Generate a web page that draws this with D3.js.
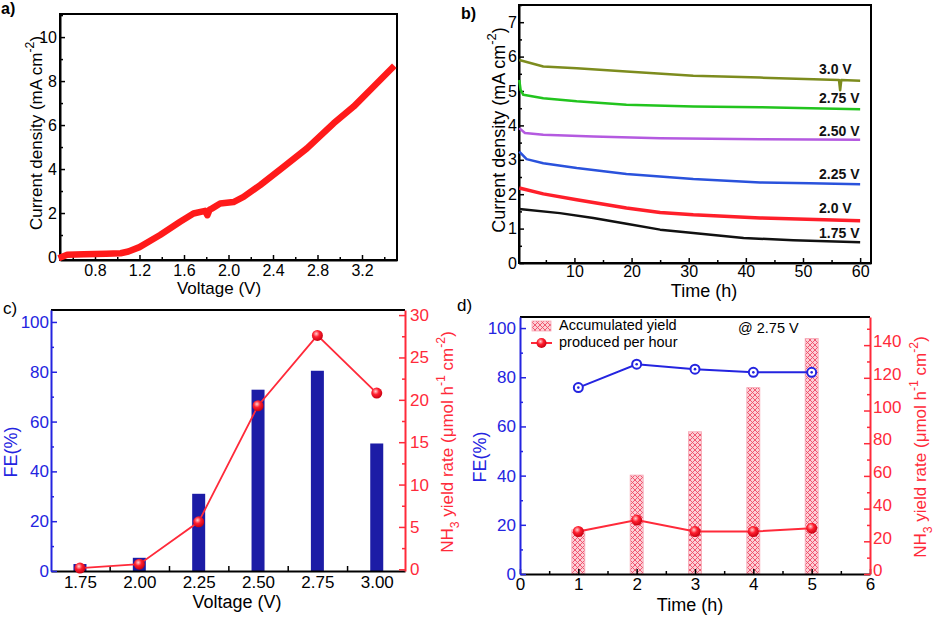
<!DOCTYPE html>
<html>
<head>
<meta charset="utf-8">
<script src="https://cdn.jsdelivr.net/npm/d3@7"></script>
<style>
  body { margin: 0; background: #fff; }
  svg { display: block; }
</style>
</head>
<body>
<svg id="chart" width="937" height="618"></svg>
<script>
// ---- data ----
// a) current density vs voltage
var aVolt = [0.5, 0.55, 0.7, 0.9, 1.03, 1.1, 1.2, 1.385, 1.565, 1.685, 1.79, 1.81, 1.83, 1.85, 1.925, 2.045, 2.135, 2.285, 2.495, 2.705, 2.945, 3.125, 3.305, 3.47];
var aCurr = [0, 0.1, 0.13, 0.15, 0.17, 0.25, 0.45, 1.0, 1.6, 1.98, 2.1, 1.9, 2.15, 2.2, 2.43, 2.5, 2.73, 3.27, 4.1, 4.94, 6.08, 6.84, 7.75, 8.59];

// b) chronoamperometry curves
var bNames = ["3.0 V", "2.75 V", "2.50 V", "2.25 V", "2.0 V", "1.75 V"];
var bColors = ["#7d8c1e", "#22c41e", "#b45ae0", "#2a52dc", "#ff1f2a", "#111111"];
var bTime = [
  [0.35, 4.55, 10.4, 19.1, 30.8, 42.5, 56.3, 56.5, 56.7, 60],
  [0.35, 0.58, 1.05, 4.55, 10.4, 19.1, 30.8, 42.5, 60],
  [0.35, 1.34, 4.55, 13.3, 25, 42.5, 60],
  [0.35, 1.63, 4.55, 10.4, 19.1, 30.8, 42.5, 51.2, 60],
  [0.35, 4.55, 10.4, 19.1, 25, 30.8, 42.5, 60],
  [0.35, 7.46, 13.3, 19.1, 25, 30.8, 39.6, 48.3, 60]
];
var bCurr = [
  [5.9, 5.71, 5.66, 5.57, 5.44, 5.39, 5.32, 5.02, 5.32, 5.3],
  [5.32, 5.03, 4.89, 4.79, 4.70, 4.60, 4.55, 4.53, 4.47],
  [3.92, 3.78, 3.73, 3.68, 3.63, 3.60, 3.58],
  [3.24, 3.02, 2.90, 2.76, 2.59, 2.44, 2.34, 2.32, 2.29],
  [2.18, 2.01, 1.84, 1.60, 1.47, 1.40, 1.31, 1.23],
  [1.57, 1.45, 1.31, 1.14, 0.97, 0.87, 0.73, 0.66, 0.60]
];
var bLabelY = [5.6, 4.77, 3.81, 2.54, 1.55, 0.83];

// c) FE and yield rate vs voltage
var cVolt = [1.75, 2.00, 2.25, 2.50, 2.75, 3.00];
var cFE = [2.8, 5.3, 31, 72.8, 80.4, 51.2];
var cRate = [0.15, 0.6, 5.6, 19.3, 27.6, 20.8];

// d) 2.75 V over time
var dTime = [1, 2, 3, 4, 5];
var dAccum = [27, 60.5, 87, 114, 144];
var dRate = [26, 33, 26, 26, 28];
var dFE = [75.8, 85.3, 83.3, 82, 82];

var FONT = "'Liberation Sans', Arial, sans-serif";
var BLUE = "#2424e0", RED = "#ff2a3a";

var svg = d3.select("#chart");
svg.append("rect").attr("width", 937).attr("height", 618).attr("fill", "#fff");

var defs = svg.append("defs");
// shiny red ball markers
var grad = defs.append("radialGradient").attr("id", "ball")
    .attr("cx", "40%").attr("cy", "35%").attr("r", "65%");
grad.append("stop").attr("offset", "0%").attr("stop-color", "#ffd0d0");
grad.append("stop").attr("offset", "45%").attr("stop-color", "#ff2030");
grad.append("stop").attr("offset", "100%").attr("stop-color", "#c80010");
// cross hatch for accumulated yield bars
var pat = defs.append("pattern").attr("id", "hatch")
    .attr("width", 5).attr("height", 5).attr("patternUnits", "userSpaceOnUse");
pat.append("rect").attr("width", 5).attr("height", 5).attr("fill", "#fccfd6");
pat.append("path").attr("d", "M0,0L5,5M5,0L0,5").attr("stroke", "#ee4c66").attr("stroke-width", 0.9);

// axis helper: ticks inward, minor ticks shorter
function drawAxis(g, gen, minorGen, tx, ty, color, fs) {
    if (minorGen) {
        var m = g.append("g").attr("transform", "translate(" + tx + "," + ty + ")").call(minorGen);
        m.select(".domain").remove();
        m.selectAll(".tick line").attr("stroke", color).attr("stroke-width", 1.5);
    }
    var a = g.append("g").attr("transform", "translate(" + tx + "," + ty + ")").call(gen)
        .attr("font-family", FONT).attr("font-size", fs);
    a.select(".domain").attr("stroke", color).attr("stroke-width", 2);
    a.selectAll(".tick line").attr("stroke", color).attr("stroke-width", 1.5);
    a.selectAll(".tick text").attr("fill", color);
    return a;
}

function vTitle(g, x, y, color, fs, parts) {
    var t = g.append("text")
        .attr("transform", "translate(" + x + "," + y + ") rotate(-90)")
        .attr("text-anchor", "middle").attr("dominant-baseline", "middle")
        .attr("font-family", FONT).attr("font-size", fs).attr("fill", color);
    parts.forEach(function (p) {
        var s = t.append("tspan").text(p.t);
        if (p.s) s.attr("baseline-shift", p.s).attr("font-size", fs * 0.72);
    });
    return t;
}

function label(g, x, y, txt, fs, color, anchor, weight) {
    return g.append("text").attr("x", x).attr("y", y)
        .attr("text-anchor", anchor || "start").attr("dominant-baseline", "middle")
        .attr("font-family", FONT).attr("font-size", fs)
        .attr("font-weight", weight || "normal")
        .attr("fill", color || "#000").text(txt);
}

function range(a, b, s) { return d3.range(a, b + s / 2, s); }

//////////// PANEL A ////////////
(function () {
    var g = svg.append("g");
    var x = d3.scaleLinear().domain([0.4854, 3.5146]).range([60, 397]);
    var y = d3.scaleLinear().domain([-0.136, 11.05]).range([260, 14]);
    g.append("rect").attr("x", 60).attr("y", 14).attr("width", 337).attr("height", 246)
        .attr("fill", "none").attr("stroke", "#000").attr("stroke-width", 2);
    drawAxis(g, d3.axisBottom(x).tickValues(range(0.8, 3.2, 0.4)).tickFormat(d3.format(".1f")).tickSize(-5).tickSizeOuter(0).tickPadding(5),
        d3.axisBottom(x).tickValues(range(0.6, 3.4, 0.4)).tickFormat("").tickSize(-3).tickSizeOuter(0),
        0, 260, "#000", 16);
    drawAxis(g, d3.axisLeft(y).tickValues(range(0, 10, 2)).tickFormat(d3.format("d")).tickSize(-5).tickSizeOuter(0).tickPadding(3),
        d3.axisLeft(y).tickValues(range(1, 11, 2)).tickFormat("").tickSize(-3).tickSizeOuter(0),
        60, 0, "#000", 16);
    var line = d3.line().x(function (d) { return x(d[0]); }).y(function (d) { return y(d[1]); });
    g.append("path").datum(d3.zip(aVolt, aCurr)).attr("d", line)
        .attr("fill", "none").attr("stroke", "#ff1a1a").attr("stroke-width", 6.5)
        .attr("stroke-linejoin", "round").attr("stroke-linecap", "square");
    label(g, 219, 290, "Voltage (V)", 17, "#000", "middle");
    vTitle(g, 38, 133, "#000", 17, [{ t: "Current density (mA cm" }, { t: "-2", s: "super" }, { t: ")" }]);
    label(g, 1, 10, "a)", 16, "#000", "start", "bold");
})();

//////////// PANEL B ////////////
(function () {
    var g = svg.append("g");
    var x = d3.scaleLinear().domain([0.3, 61.9]).range([519, 871]);
    var y = d3.scaleLinear().domain([0, 7.5]).range([263, 5]);
    g.append("rect").attr("x", 519).attr("y", 5).attr("width", 352).attr("height", 258)
        .attr("fill", "none").attr("stroke", "#000").attr("stroke-width", 2);
    drawAxis(g, d3.axisBottom(x).tickValues(range(10, 60, 10)).tickFormat(d3.format("d")).tickSize(-5).tickSizeOuter(0).tickPadding(3),
        d3.axisBottom(x).tickValues(range(5, 55, 10)).tickFormat("").tickSize(-3).tickSizeOuter(0),
        0, 263, "#000", 16);
    drawAxis(g, d3.axisLeft(y).tickValues(range(0, 7, 1)).tickFormat(d3.format("d")).tickSize(-5).tickSizeOuter(0).tickPadding(2),
        d3.axisLeft(y).tickValues(range(0.5, 7.5, 1)).tickFormat("").tickSize(-3).tickSizeOuter(0),
        519, 0, "#000", 16);
    var line = d3.line().x(function (d) { return x(d[0]); }).y(function (d) { return y(d[1]); });
    bNames.forEach(function (n, i) {
        g.append("path").datum(d3.zip(bTime[i], bCurr[i])).attr("d", line)
            .attr("fill", "none").attr("stroke", bColors[i])
            .attr("stroke-width", i === 4 ? 3.5 : 2.5).attr("stroke-linejoin", "round");
        label(g, x(52.8), y(bLabelY[i]), n, 14, "#111", "start", "bold");
    });
    label(g, 704, 292, "Time (h)", 18, "#000", "middle");
    vTitle(g, 500, 130, "#000", 18, [{ t: "Current density (mA cm" }, { t: "-2", s: "super" }, { t: ")" }]);
    label(g, 461, 15, "b)", 16, "#000", "start", "bold");
})();

//////////// PANEL C ////////////
(function () {
    var g = svg.append("g");
    var x = d3.scaleLinear().domain([1.628, 3.119]).range([51, 405]);
    var yL = d3.scaleLinear().domain([0, 104.8]).range([571, 310]);
    var yR = d3.scaleLinear().domain([-0.2, 30.6]).range([571, 310]);
    g.append("line").attr("x1", 51).attr("x2", 405).attr("y1", 310).attr("y2", 310)
        .attr("stroke", "#000").attr("stroke-width", 2);
    // bars
    g.selectAll(".bar").data(d3.zip(cVolt, cFE)).enter().append("rect")
        .attr("x", function (d) { return x(d[0]) - 6.5; })
        .attr("width", 13)
        .attr("y", function (d) { return yL(d[1]); })
        .attr("height", function (d) { return yL(0) - yL(d[1]); })
        .attr("fill", "#1c1ca6");
    drawAxis(g, d3.axisBottom(x).tickValues(cVolt).tickFormat(d3.format(".2f")).tickSize(0).tickSizeOuter(0).tickPadding(5),
        d3.axisBottom(x).tickValues(range(1.875, 2.875, 0.25)).tickFormat("").tickSize(-5).tickSizeOuter(0),
        0, 571, "#000", 17);
    drawAxis(g, d3.axisLeft(yL).tickValues(range(0, 100, 20)).tickFormat(d3.format("d")).tickSize(-6).tickSizeOuter(0).tickPadding(2),
        d3.axisLeft(yL).tickValues(range(10, 90, 20)).tickFormat("").tickSize(-3).tickSizeOuter(0),
        51, 0, BLUE, 17);
    drawAxis(g, d3.axisRight(yR).tickValues(range(0, 30, 5)).tickFormat(d3.format("d")).tickSize(-6).tickSizeOuter(0).tickPadding(5),
        d3.axisRight(yR).tickValues(range(2.5, 27.5, 5)).tickFormat("").tickSize(-3).tickSizeOuter(0),
        405, 0, RED, 17);
    var line = d3.line().x(function (d) { return x(d[0]); }).y(function (d) { return yR(d[1]); });
    g.append("path").datum(d3.zip(cVolt, cRate)).attr("d", line)
        .attr("fill", "none").attr("stroke", RED).attr("stroke-width", 1.8);
    g.selectAll(".pt").data(d3.zip(cVolt, cRate)).enter().append("circle")
        .attr("cx", function (d) { return x(d[0]); })
        .attr("cy", function (d) { return yR(d[1]); })
        .attr("r", 5.5).attr("fill", "url(#ball)");
    label(g, 237, 603, "Voltage (V)", 18, "#000", "middle");
    vTitle(g, 12, 452, BLUE, 18, [{ t: "FE(%)" }]);
    vTitle(g, 449, 442, RED, 17, [{ t: "NH" }, { t: "3", s: "sub" }, { t: " yield rate (μmol h" }, { t: "-1", s: "super" }, { t: " cm" }, { t: "-2", s: "super" }, { t: ")" }]);
    label(g, 3, 310, "c)", 17, "#000", "start");
})();

//////////// PANEL D ////////////
(function () {
    var g = svg.append("g");
    var x = d3.scaleLinear().domain([0, 6]).range([520, 870]);
    var yL = d3.scaleLinear().domain([0, 104.5]).range([574, 317]);
    var yR = d3.scaleLinear().domain([0, 157.2]).range([574, 317]);
    g.append("line").attr("x1", 520).attr("x2", 870).attr("y1", 317).attr("y2", 317)
        .attr("stroke", "#000").attr("stroke-width", 2);
    g.selectAll(".bar").data(d3.zip(dTime, dAccum)).enter().append("rect")
        .attr("x", function (d) { return x(d[0]) - 6.5; })
        .attr("width", 13)
        .attr("y", function (d) { return yR(d[1]); })
        .attr("height", function (d) { return yR(0) - yR(d[1]); })
        .attr("fill", "url(#hatch)").attr("stroke", "#f7a8b6").attr("stroke-width", 0.8);
    drawAxis(g, d3.axisBottom(x).tickValues(range(0, 6, 1)).tickFormat(d3.format("d")).tickSize(-5).tickSizeOuter(0).tickPadding(4),
        d3.axisBottom(x).tickValues(range(0.5, 5.5, 1)).tickFormat("").tickSize(-3).tickSizeOuter(0),
        0, 574, "#000", 17);
    drawAxis(g, d3.axisLeft(yL).tickValues(range(0, 100, 20)).tickFormat(d3.format("d")).tickSize(-6).tickSizeOuter(0).tickPadding(4),
        d3.axisLeft(yL).tickValues(range(10, 90, 20)).tickFormat("").tickSize(-3).tickSizeOuter(0),
        520, 0, BLUE, 17);
    var rAx = drawAxis(g, d3.axisRight(yR).tickValues(range(0, 140, 20)).tickFormat(d3.format("d")).tickSize(-6).tickSizeOuter(0).tickPadding(3),
        d3.axisRight(yR).tickValues(range(10, 150, 20)).tickFormat("").tickSize(-3).tickSizeOuter(0),
        870, 0, RED, 17);
    rAx.selectAll(".tick text").attr("dy", "0.1em");
    // FE line
    var lineL = d3.line().x(function (d) { return x(d[0]); }).y(function (d) { return yL(d[1]); });
    g.append("path").datum(d3.zip(dTime, dFE)).attr("d", lineL)
        .attr("fill", "none").attr("stroke", BLUE).attr("stroke-width", 2);
    var fe = g.selectAll(".fe").data(d3.zip(dTime, dFE)).enter().append("g")
        .attr("transform", function (d) { return "translate(" + x(d[0]) + "," + yL(d[1]) + ")"; });
    fe.append("circle").attr("r", 4.5).attr("fill", "#fff").attr("stroke", BLUE).attr("stroke-width", 2);
    fe.append("circle").attr("r", 1.3).attr("fill", BLUE);
    // rate line
    var lineR = d3.line().x(function (d) { return x(d[0]); }).y(function (d) { return yR(d[1]); });
    g.append("path").datum(d3.zip(dTime, dRate)).attr("d", lineR)
        .attr("fill", "none").attr("stroke", RED).attr("stroke-width", 2);
    g.selectAll(".pt").data(d3.zip(dTime, dRate)).enter().append("circle")
        .attr("cx", function (d) { return x(d[0]); })
        .attr("cy", function (d) { return yR(d[1]); })
        .attr("r", 5.5).attr("fill", "url(#ball)");
    // legend
    g.append("rect").attr("x", 532).attr("y", 321).attr("width", 19).attr("height", 10)
        .attr("fill", "url(#hatch)").attr("stroke", "#f7a8b6").attr("stroke-width", 0.8);
    label(g, 559, 326, "Accumulated yield", 14.5, "#000");
    g.append("line").attr("x1", 531).attr("x2", 552).attr("y1", 343).attr("y2", 343)
        .attr("stroke", RED).attr("stroke-width", 2);
    g.append("circle").attr("cx", 541.5).attr("cy", 343).attr("r", 5).attr("fill", "url(#ball)");
    label(g, 559, 343, "produced per hour", 14.5, "#000");
    label(g, 738, 329, "@ 2.75 V", 14.5, "#000");
    label(g, 690, 606, "Time (h)", 18, "#000", "middle");
    vTitle(g, 481, 457, BLUE, 18, [{ t: "FE(%)" }]);
    vTitle(g, 922, 447, RED, 17, [{ t: "NH" }, { t: "3", s: "sub" }, { t: " yield rate (μmol h" }, { t: "-1", s: "super" }, { t: " cm" }, { t: "-2", s: "super" }, { t: ")" }]);
    label(g, 457, 307, "d)", 17, "#000", "start");
})();
</script>
</body>
</html>
